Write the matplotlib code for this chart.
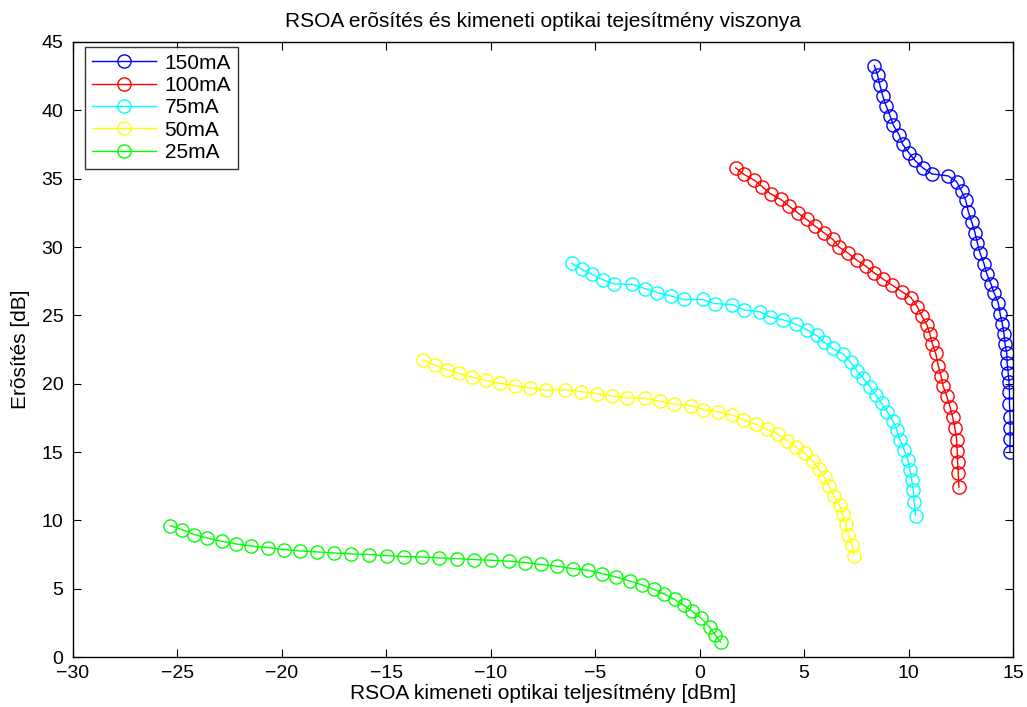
import matplotlib
matplotlib.use("Agg")
import matplotlib.pyplot as plt

plt.rcParams['font.family'] = ['Liberation Sans', 'DejaVu Sans']

# Output power [dBm] and gain [dB] for each bias current
x_150 = [8.36, 8.52, 8.63, 8.76, 8.92, 9.11, 9.27, 9.54, 9.72, 10.02, 10.31, 10.68, 11.11,
         11.90, 12.30, 12.54, 12.73, 12.86, 13.02, 13.18, 13.29, 13.42, 13.61, 13.74, 13.94,
         14.09, 14.29, 14.38, 14.49, 14.57, 14.62, 14.70, 14.72, 14.77, 14.81, 14.83, 14.83,
         14.86, 14.86, 14.86, 14.85]
y_150 = [43.28, 42.55, 41.82, 41.07, 40.34, 39.61, 38.91, 38.23, 37.50, 36.88, 36.33, 35.79, 35.35,
         35.20, 34.77, 34.09, 33.43, 32.58, 31.85, 31.04, 30.31, 29.58, 28.78, 28.05, 27.32,
         26.66, 25.93, 25.13, 24.36, 23.63, 22.90, 22.21, 21.48, 20.75, 20.09, 19.36, 18.52,
         17.54, 16.77, 15.96, 14.99]

x_100 = [1.72, 2.12, 2.61, 3.00, 3.40, 3.89, 4.28, 4.69, 5.12, 5.52, 5.95, 6.37, 6.67,
         7.08, 7.52, 7.95, 8.34, 8.79, 9.22, 9.67, 10.11, 10.42, 10.63, 10.87, 11.02, 11.14,
         11.30, 11.42, 11.55, 11.66, 11.82, 11.98, 12.11, 12.22, 12.30, 12.33, 12.35, 12.38,
         12.41]
y_100 = [35.79, 35.31, 34.89, 34.40, 33.89, 33.48, 32.99, 32.50, 32.02, 31.53, 31.04, 30.56, 30.00,
         29.58, 29.03, 28.61, 28.12, 27.64, 27.20, 26.74, 26.30, 25.62, 24.96, 24.31, 23.63, 22.90,
         22.21, 21.31, 20.58, 19.80, 19.12, 18.32, 17.54, 16.74, 15.89, 15.06, 14.26, 13.45,
         12.43]

x_75 = [-6.13, -5.65, -5.17, -4.64, -4.09, -3.26, -2.62, -2.03, -1.39, -0.74, 0.14, 0.73, 1.55,
        2.12, 2.89, 3.37, 4.00, 4.60, 5.12, 5.60, 5.95, 6.37, 6.87, 7.24, 7.52, 7.83, 8.15,
        8.42, 8.71, 8.98, 9.24, 9.43, 9.59, 9.79, 9.96, 10.07, 10.15, 10.23, 10.27, 10.34]
y_75 = [28.81, 28.37, 28.01, 27.61, 27.30, 27.27, 26.96, 26.66, 26.42, 26.16, 26.16, 25.86, 25.79,
        25.40, 25.26, 24.87, 24.67, 24.36, 23.96, 23.53, 23.04, 22.58, 22.17, 21.55, 20.95, 20.39,
        19.78, 19.17, 18.56, 17.96, 17.30, 16.64, 15.91, 15.16, 14.43, 13.65, 12.92, 12.19,
        11.36, 10.34]

x_50 = [-13.23, -12.69, -12.11, -11.52, -10.90, -10.23, -9.56, -8.84, -8.11, -7.37, -6.45, -5.68,
        -4.93, -4.20, -3.48, -2.60, -1.90, -1.24, -0.43, 0.17, 0.89, 1.56, 2.09, 2.70, 3.21,
        3.73, 4.19, 4.61, 5.03, 5.41, 5.70, 5.98, 6.19, 6.43, 6.70, 6.85, 7.00, 7.11, 7.28, 7.39]
y_50 = [21.75, 21.36, 21.02, 20.75, 20.49, 20.24, 20.02, 19.85, 19.68, 19.54, 19.56, 19.42,
        19.27, 19.10, 18.96, 18.93, 18.71, 18.52, 18.39, 18.10, 17.93, 17.71, 17.35, 17.03, 16.69,
        16.30, 15.84, 15.35, 14.91, 14.36, 13.74, 13.14, 12.50, 11.80, 11.09, 10.44, 9.71, 8.96,
        8.20, 7.42]

x_25 = [-25.34, -24.77, -24.20, -23.58, -22.89, -22.18, -21.46, -20.68, -19.90, -19.12, -18.32,
        -17.51, -16.67, -15.83, -14.97, -14.14, -13.31, -12.48, -11.63, -10.80, -9.98, -9.15,
        -8.35, -7.59, -6.81, -6.08, -5.36, -4.67, -4.01, -3.36, -2.76, -2.21, -1.69, -1.20,
        -0.75, -0.35, 0.08, 0.47, 0.73, 1.01]
y_25 = [9.61, 9.31, 8.96, 8.71, 8.47, 8.27, 8.12, 8.01, 7.86, 7.76, 7.69, 7.61, 7.54, 7.50,
        7.42, 7.35, 7.32, 7.25, 7.20, 7.13, 7.08, 7.01, 6.91, 6.77, 6.64, 6.47, 6.35, 6.11, 5.86,
        5.57, 5.28, 4.96, 4.60, 4.21, 3.77, 3.34, 2.82, 2.19, 1.63, 1.07]

labels = ['150mA', '100mA', '75mA', '50mA', '25mA']
colors = ['#0000ff', '#ff0000', '#00ffff', '#ffff00', '#00ff00']
series = [(x_150, y_150), (x_100, y_100), (x_75, y_75), (x_50, y_50), (x_25, y_25)]

x_ticks = [-30, -25, -20, -15, -10, -5, 0, 5, 10, 15]
y_ticks = [0, 5, 10, 15, 20, 25, 30, 35, 40, 45]

TICK_FS = 14
LABEL_FS = 15

fig = plt.figure(figsize=(10.27, 7.07), dpi=100)
ax = fig.add_axes([0.0711, 0.0707, 0.9153, 0.8699])

for (xs, ys), c, lab in zip(series, colors, labels):
    ax.plot(xs, ys, color=c, linewidth=1.0, marker='o', markersize=9.5,
            markerfacecolor='none', markeredgecolor=c, markeredgewidth=1.0, label=lab)

ax.set_xlim(-30, 15)
ax.set_ylim(0, 45)
ax.set_xticks(x_ticks)
ax.set_yticks(y_ticks)
ax.tick_params(direction='in', length=6, width=0.8, top=True, right=True,
               labelsize=TICK_FS)
ax.tick_params(axis='x', pad=6)
ax.tick_params(axis='y', pad=7)
for s in ax.spines.values():
    s.set_linewidth(1.0)

ax.set_title('RSOA erõsítés és kimeneti optikai tejesítmény viszonya', fontsize=LABEL_FS, pad=11)
ax.set_xlabel('RSOA kimeneti optikai teljesítmény [dBm]', fontsize=LABEL_FS, labelpad=1)
ax.set_ylabel('Erõsítés [dB]', fontsize=LABEL_FS, labelpad=8)

leg = ax.legend(loc='upper left', bbox_to_anchor=(0.0128, 0.992), borderaxespad=0,
                fontsize=LABEL_FS, frameon=True, fancybox=False, edgecolor='black',
                handlelength=3.1, labelspacing=0.16, borderpad=0.32, handletextpad=0.4)
leg.get_frame().set_linewidth(1.0)

fig.savefig('out.png', dpi=100)
